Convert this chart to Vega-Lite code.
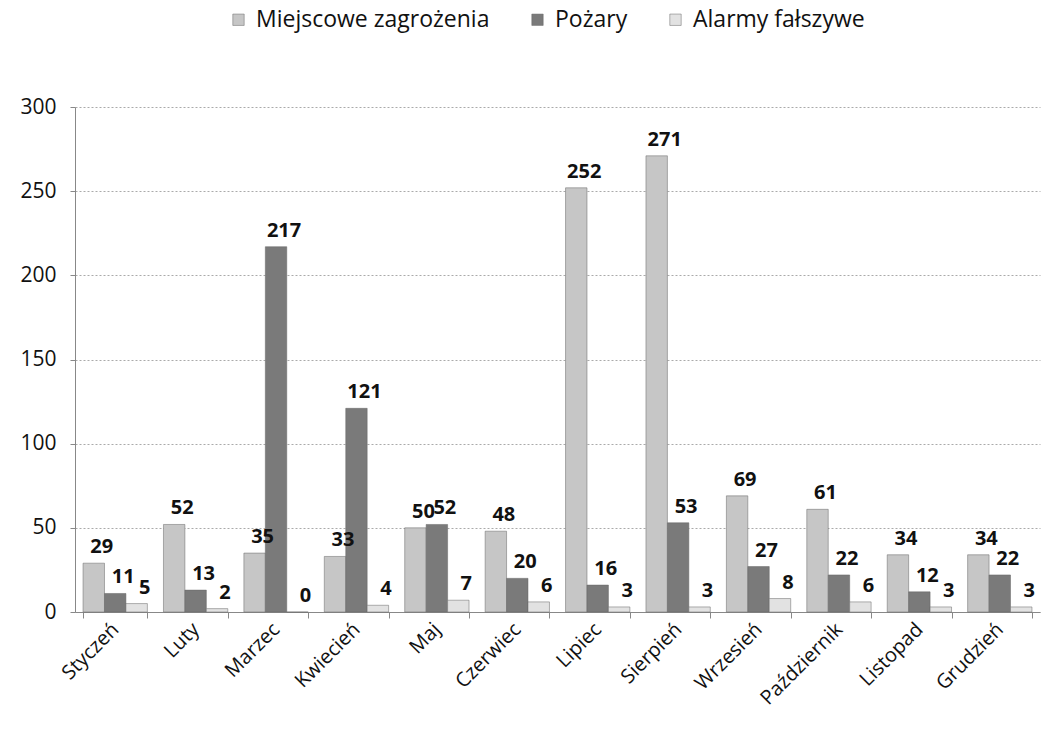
{
  "$schema": "https://vega.github.io/schema/vega-lite/v6.json",
  "width": 965,
  "height": 505,
  "autosize": "none",
  "padding": {"left": 75, "top": 107, "right": 9, "bottom": 137},
  "background": "white",
  "config": {
    "font": "Open Sans",
    "view": {"stroke": null}
  },
  "data": {
    "values": [
      {"m": "Styczeń", "s": "Miejscowe zagrożenia", "v": 29},
      {"m": "Styczeń", "s": "Pożary", "v": 11},
      {"m": "Styczeń", "s": "Alarmy fałszywe", "v": 5},
      {"m": "Luty", "s": "Miejscowe zagrożenia", "v": 52},
      {"m": "Luty", "s": "Pożary", "v": 13},
      {"m": "Luty", "s": "Alarmy fałszywe", "v": 2},
      {"m": "Marzec", "s": "Miejscowe zagrożenia", "v": 35},
      {"m": "Marzec", "s": "Pożary", "v": 217},
      {"m": "Marzec", "s": "Alarmy fałszywe", "v": 0},
      {"m": "Kwiecień", "s": "Miejscowe zagrożenia", "v": 33},
      {"m": "Kwiecień", "s": "Pożary", "v": 121},
      {"m": "Kwiecień", "s": "Alarmy fałszywe", "v": 4},
      {"m": "Maj", "s": "Miejscowe zagrożenia", "v": 50},
      {"m": "Maj", "s": "Pożary", "v": 52},
      {"m": "Maj", "s": "Alarmy fałszywe", "v": 7},
      {"m": "Czerwiec", "s": "Miejscowe zagrożenia", "v": 48},
      {"m": "Czerwiec", "s": "Pożary", "v": 20},
      {"m": "Czerwiec", "s": "Alarmy fałszywe", "v": 6},
      {"m": "Lipiec", "s": "Miejscowe zagrożenia", "v": 252},
      {"m": "Lipiec", "s": "Pożary", "v": 16},
      {"m": "Lipiec", "s": "Alarmy fałszywe", "v": 3},
      {"m": "Sierpień", "s": "Miejscowe zagrożenia", "v": 271},
      {"m": "Sierpień", "s": "Pożary", "v": 53},
      {"m": "Sierpień", "s": "Alarmy fałszywe", "v": 3},
      {"m": "Wrzesień", "s": "Miejscowe zagrożenia", "v": 69},
      {"m": "Wrzesień", "s": "Pożary", "v": 27},
      {"m": "Wrzesień", "s": "Alarmy fałszywe", "v": 8},
      {"m": "Październik", "s": "Miejscowe zagrożenia", "v": 61},
      {"m": "Październik", "s": "Pożary", "v": 22},
      {"m": "Październik", "s": "Alarmy fałszywe", "v": 6},
      {"m": "Listopad", "s": "Miejscowe zagrożenia", "v": 34},
      {"m": "Listopad", "s": "Pożary", "v": 12},
      {"m": "Listopad", "s": "Alarmy fałszywe", "v": 3},
      {"m": "Grudzień", "s": "Miejscowe zagrożenia", "v": 34},
      {"m": "Grudzień", "s": "Pożary", "v": 22},
      {"m": "Grudzień", "s": "Alarmy fałszywe", "v": 3}
    ]
  },
  "encoding": {
    "x": {
      "field": "m", "type": "nominal", "sort": null,
      "scale": {"paddingInner": 0.2, "paddingOuter": 0.1},
      "axis": {
        "title": null, "labelAngle": -45, "labelAlign": "right", "labelBaseline": "middle",
        "labelFontSize": 20, "labelColor": "#111", "labelPadding": 8,
        "domainColor": "#888", "tickColor": "#888", "tickBand": "extent", "tickSize": 6
      }
    },
    "xOffset": {"field": "s", "type": "nominal", "sort": ["Miejscowe zagrożenia", "Pożary", "Alarmy fałszywe"]},
    "y": {
      "field": "v", "type": "quantitative",
      "scale": {"domain": [0, 300]},
      "axis": {
        "title": null, "values": [0, 50, 100, 150, 200, 250, 300],
        "labelFontSize": 21, "labelColor": "#111", "labelPadding": 14,
        "gridColor": "#aaa", "gridDash": [2, 2], "domainColor": "#888", "tickColor": "#888"
      }
    }
  },
  "layer": [
    {
      "mark": {"type": "bar", "stroke": "#666", "strokeWidth": 0.5},
      "encoding": {
        "color": {
          "field": "s", "type": "nominal",
          "scale": {
            "domain": ["Miejscowe zagrożenia", "Pożary", "Alarmy fałszywe"],
            "range": ["#c6c6c6", "#7a7a7a", "#e2e2e2"]
          },
          "legend": {
            "title": null, "orient": "none", "direction": "horizontal",
            "legendX": 152, "legendY": -99,
            "symbolType": "square", "symbolSize": 130, "symbolStrokeColor": "#666", "symbolStrokeWidth": 0.5,
            "labelFontSize": 23, "labelColor": "#111", "labelLimit": 0, "columnPadding": 36, "labelOffset": 6
          }
        }
      }
    },
    {
      "mark": {"type": "text", "baseline": "bottom", "dy": -6, "dx": 8, "fontWeight": "bold", "fontSize": 20, "color": "#111"},
      "encoding": {"text": {"field": "v", "type": "quantitative"}}
    }
  ]
}
